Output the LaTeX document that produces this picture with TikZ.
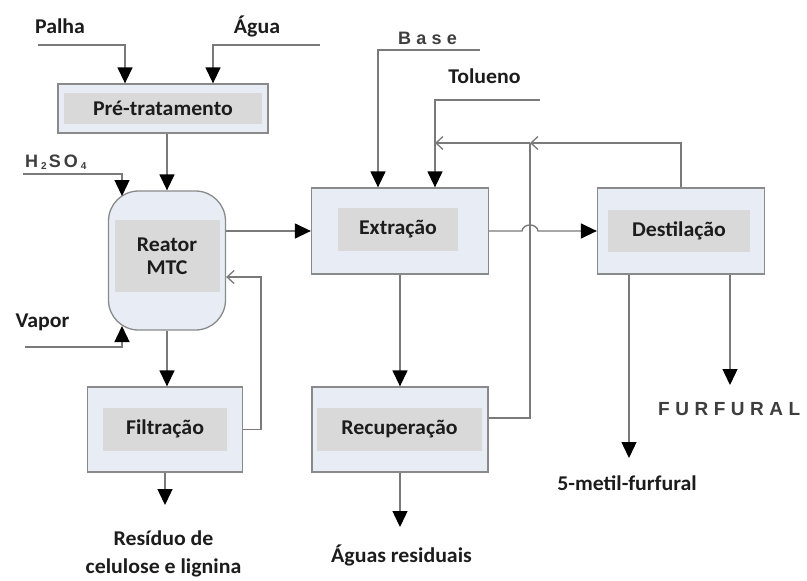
\documentclass[tikz,border=0pt]{standalone}
\usepackage{fontspec}
\setmainfont[FakeStretch=1.04]{Carlito}
\newfontfamily\spacedsans[LetterSpace=29]{Liberation Sans}
\newfontfamily\plainsans{Liberation Sans}
\usetikzlibrary{arrows.meta}
\definecolor{boxfill}{HTML}{E8EDF5}
\definecolor{boxline}{HTML}{8A8A8A}
\definecolor{innerfill}{HTML}{D9D9D9}
\definecolor{linec}{HTML}{7A7A7A}
\definecolor{txt}{HTML}{1C1C1C}
\newcommand\lblfont{\bfseries\fontsize{21}{23}\selectfont}
\begin{document}
\begin{tikzpicture}[x=1pt,y=-1pt,
  outerbox/.style={draw=boxline, fill=boxfill, line width=1.3pt, inner sep=0pt},
  innerbox/.style={fill=innerfill, inner sep=0pt, font=\lblfont, text=txt, align=center},
  flow/.style={draw=linec, line width=1.4pt, -{Triangle[width=15pt,length=16pt,color=black]}},
  openflow/.style={draw=linec, line width=1.3pt, -{Straight Barb[length=7pt,width=13pt]}},
  plainline/.style={draw=linec, line width=1.4pt},
  lbl/.style={font=\lblfont, text=txt, inner sep=0pt, anchor=base},
  spaced/.style={text=txt!85, inner sep=0pt, anchor=base west}
]
\useasboundingbox[fill=white] (0,0) rectangle (807,581);

% boxes
\node[outerbox, minimum width=210, minimum height=49] (pre) at (163,108.5) {};
\node[innerbox, minimum width=198, minimum height=31] (preIn) at (163,108) {Pré-tratamento};

\node[outerbox, rounded corners=30pt, minimum width=117, minimum height=139] (reactor) at (167,260.5) {};
\node[innerbox, minimum width=105, minimum height=72] (reactorIn) at (167,256) {Reator\\MTC};

\node[outerbox, minimum width=155, minimum height=85] (filt) at (165,429.5) {};
\node[innerbox, minimum width=124, minimum height=43] (filtIn) at (165,429) {Filtração};

\node[outerbox, minimum width=177, minimum height=86] (ext) at (400,231) {};
\node[innerbox, minimum width=120, minimum height=43] (extIn) at (398,229.5) {Extração};

\node[outerbox, minimum width=176, minimum height=85] (recup) at (400,429.5) {};
\node[innerbox, minimum width=165, minimum height=43] (recupIn) at (399.5,429.5) {Recuperação};

\node[outerbox, minimum width=167, minimum height=86] (dest) at (681,231) {};
\node[innerbox, minimum width=142, minimum height=42] (destIn) at (679,231) {Destilação};

% free ends
\coordinate (palhaL) at (38,45);
\coordinate (aguaR) at (320,45);
\coordinate (h2L) at (23,174);
\coordinate (h2in) at (122,196);
\coordinate (vapL) at (25,347);
\coordinate (vapin) at (122,326);
\coordinate (fbx) at (261,277);
\coordinate (filtOut) at (165,505);
\coordinate (baseR) at (480,50);
\coordinate (tolR) at (540,100);
\coordinate (hopA) at (522,231);
\coordinate (hopB) at (538,231);
\coordinate (j530) at (530,143);
\coordinate (tolJ) at (435,143);
\coordinate (recOut) at (400,527);
\coordinate (m5Out) at (629,458);
\coordinate (furOut) at (730,385);

% connectors
\draw[flow] (palhaL) -| ([xshift=-38pt]pre.north);
\draw[flow] (aguaR) -| ([xshift=50pt]pre.north);
\draw[flow] (pre.south -| reactor.north) -- (reactor.north);
\draw[flow] (h2L) -| (h2in);
\draw[flow] (vapL) -| (vapin);
\draw[flow] (reactor.east |- ext.west) -- (ext.west);
\draw[flow] (reactor.south) -- (reactor.south |- filt.north);
\draw[openflow] (filt.east) -| (fbx) -- (reactor.east |- fbx);
\draw[flow] (filt.south) -- (filt.south |- filtOut);
\draw[flow] (baseR) -| ([xshift=-22pt]ext.north);
\draw[flow] (tolR) -| ([xshift=35pt]ext.north);
\draw[flow] (ext.east) -- (hopA) .. controls +(1,-8) and +(-1,-8) .. (hopB) -- (dest.west);
\draw[plainline] ([yshift=11.5pt]recup.east) -| (j530);
\draw[openflow] (dest.north) |- (j530);
\draw[openflow] (j530) -- (tolJ);
\draw[flow] (ext.south) -- (ext.south |- recup.north);
\draw[flow] (recup.south) -- (recup.south |- recOut);
\draw[flow] (dest.south -| m5Out) -- (m5Out);
\draw[flow] (dest.south -| furOut) -- (furOut);

% labels
\node[lbl] (tPalha) at (60,33) {Palha};
\node[lbl] (tAgua) at (257,33) {Água};
\node[inner sep=0pt, anchor=base west, text=txt!85, font=\plainsans\bfseries\fontsize{18}{20}\selectfont] (tH2) at (25,167)
  {H\hspace{3pt}\raisebox{-2pt}{\fontsize{10}{10}\selectfont 2}\hspace{2pt}S\hspace{3pt}O\hspace{3pt}\raisebox{-2pt}{\fontsize{10}{10}\selectfont 4}};
\node[spaced, font=\spacedsans\bfseries\fontsize{18}{20}\selectfont] (tBase) at (398,44) {Base};
\node[lbl] (tTol) at (484.5,83) {Tolueno};
\node[lbl] (tVapor) at (42.5,327) {Vapor};
\node[lbl] (tRes1) at (163.5,545) {Resíduo de};
\node[lbl] (tRes2) at (163.5,573) {celulose e lignina};
\node[lbl] (tAguas) at (401.5,562) {Águas residuais};
\node[lbl] (tM5) at (627,490) {5-metil-furfural};
\node[spaced, font=\spacedsans\bfseries\fontsize{19}{21}\selectfont] (tFur) at (658,415) {FURFURAL};
\end{tikzpicture}
\end{document}
